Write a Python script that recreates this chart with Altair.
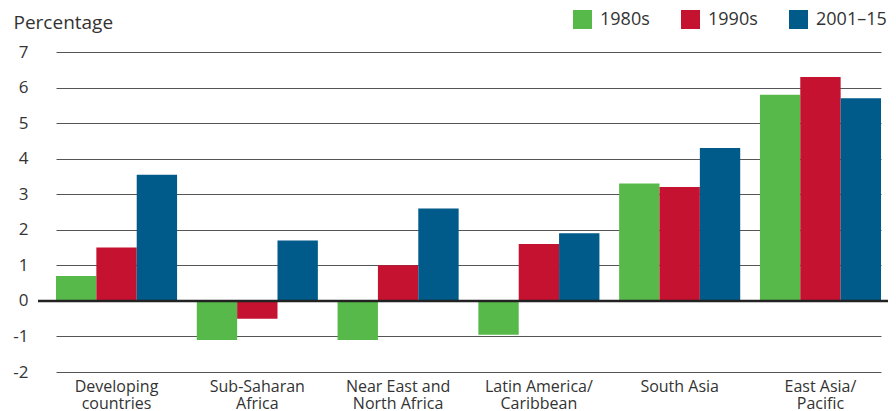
import altair as alt
import pandas as pd

regions = ["Developing|countries", "Sub-Saharan|Africa", "Near East and|North Africa",
           "Latin America/|Caribbean", "South Asia", "East Asia/|Pacific"]
periods = ["1980s", "1990s", "2001–15"]
v1980s = [0.7, -1.1, -1.1, -0.95, 3.3, 5.8]
v1990s = [1.5, -0.5, 1.0, 1.6, 3.2, 6.3]
v2001_15 = [3.55, 1.7, 2.6, 1.9, 4.3, 5.7]
y_ticks = [-2, -1, 0, 1, 2, 3, 4, 5, 6, 7]
colors = ["#57b94a", "#c41230", "#005a8a"]

rows = []
for series, vals in zip(periods, [v1980s, v1990s, v2001_15]):
    for r, v in zip(regions, vals):
        rows.append({"region": r, "period": series, "value": v})
df = pd.DataFrame(rows)

FONT = "Open Sans"
TXT = "#333333"

y_axis = alt.Axis(values=y_ticks, title="Percentage", labelOverlap=False,
                  labelExpr="toString(datum.value)",
                  titleAngle=0, titleAlign="left", titleBaseline="alphabetic",
                  titleX=-25, titleY=-24, titleFontSize=19, titleFont=FONT,
                  titleFontWeight="normal", titleColor=TXT,
                  labelFontSize=17, labelFont=FONT, labelColor=TXT,
                  labelPadding=10, domain=False, ticks=False,
                  grid=True, gridColor="#555555", gridWidth=1)
y_scale = alt.Scale(domain=[-2, 7], nice=False)

bars = alt.Chart(df).mark_bar().encode(
    x=alt.X("region:N", sort=regions,
            scale=alt.Scale(range=[18, 843], paddingInner=0.14, paddingOuter=0),
            axis=alt.Axis(title=None, labelAngle=0, domain=False, ticks=False,
                          labelExpr="split(datum.label, '|')",
                          labelFontSize=16, labelFont=FONT, labelColor=TXT,
                          labelPadding=6, labelLineHeight=17, labelBaseline="top",
                          labelOverlap=False)),
    xOffset=alt.XOffset("period:N", sort=periods,
                        scale=alt.Scale(paddingInner=0, paddingOuter=0)),
    y=alt.Y("value:Q", scale=y_scale, axis=y_axis),
    color=alt.Color("period:N", sort=periods,
                    scale=alt.Scale(domain=periods, range=colors),
                    legend=alt.Legend(title=None, orient="none", legendX=535, legendY=-42,
                                      direction="horizontal", symbolType="square",
                                      symbolSize=361, symbolStrokeWidth=0,
                                      labelFontSize=18, labelFont=FONT, labelColor=TXT,
                                      labelOffset=8, columnPadding=31)),
)

zero = alt.Chart(pd.DataFrame({"y": [0]})).mark_rule(color="#222222", strokeWidth=2.5).encode(
    y=alt.Y("y:Q", scale=y_scale, axis=y_axis)
)

chart = alt.layer(bars, zero).properties(
    width=850, height=320,
    autosize=alt.AutoSizeParams(type="none"),
    padding={"left": 30, "top": 44, "right": 0, "bottom": 47},
).configure_view(stroke=None)

chart.save("out.html", embed_options={"renderer": "svg", "actions": False})
